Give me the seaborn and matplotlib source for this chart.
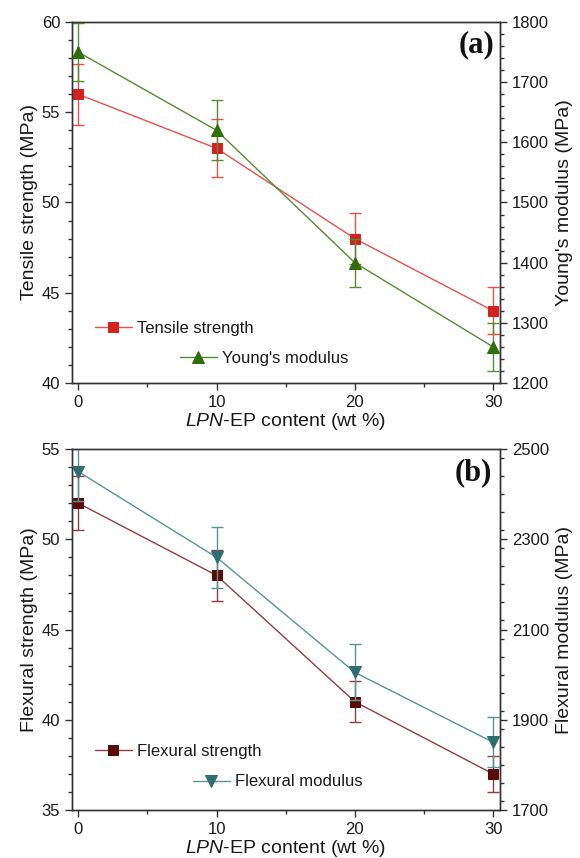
import numpy as np
import pandas as pd
import matplotlib
matplotlib.use("Agg")
import matplotlib.pyplot as plt
import seaborn as sns
from matplotlib.ticker import MultipleLocator

sns.set_theme(style="ticks")
plt.rcParams['font.family'] = ['Liberation Sans', 'DejaVu Sans']
plt.rcParams['mathtext.fontset'] = 'custom'
plt.rcParams['mathtext.it'] = 'Liberation Sans:italic'
plt.rcParams['mathtext.rm'] = 'Liberation Sans'

content = [0, 10, 20, 30]
tensile = [56, 53, 48, 44]
tensile_err = [1.7, 1.6, 1.4, 1.3]
young = [1750, 1620, 1400, 1260]
young_err = [48, 50, 40, 40]
flex_strength = [52, 48, 41, 37]
flex_strength_err = [1.5, 1.4, 1.15, 1.0]
flex_modulus = [2450, 2260, 2005, 1850]
flex_modulus_err = [65, 68, 62, 55]

x_ticks = [0, 10, 20, 30]
ticksA_left = [40, 45, 50, 55, 60]
ticksA_right = [1200, 1300, 1400, 1500, 1600, 1700, 1800]
ticksB_left = [35, 40, 45, 50, 55]
ticksB_right = [1700, 1900, 2100, 2300, 2500]
xlabel = r'$\mathit{LPN}$-EP content (wt %)'

fig = plt.figure(figsize=(5.8, 8.58), dpi=100)
L, R = 72/580, 500/580
axA = fig.add_axes([L, 1-383/858, R-L, 361/858])
axB = fig.add_axes([L, 1-810/858, R-L, 361/858])

FS = 14
TFS = 12
TXT = '#1a1a1a'

def draw(ax, y1, e1, y2, e2, c1m, c1l, c2m, c2l, mk2, ms2,
         lab1, lab2, ylab1, ylab2, ylim1, ylim2, t1, min1, t2, min2,
         leg1, leg2, panel, ppos):
    ax2 = ax.twinx()
    df1 = pd.DataFrame({'x': content, 'y': y1})
    df2 = pd.DataFrame({'x': content, 'y': y2})
    ax.errorbar(content, y1, yerr=e1, fmt='none', ecolor=c1l, elinewidth=1.0,
                capsize=4, capthick=1.0, zorder=2)
    sns.lineplot(data=df1, x='x', y='y', ax=ax, color=c1l, lw=1.0,
                 marker='s', markersize=6.5, markerfacecolor=c1m,
                 markeredgecolor=c1m, label=lab1, legend=False, zorder=3)
    ax2.errorbar(content, y2, yerr=e2, fmt='none', ecolor=c2l, elinewidth=1.0,
                 capsize=4, capthick=1.0, zorder=2)
    sns.lineplot(data=df2, x='x', y='y', ax=ax2, color=c2l, lw=1.0,
                 marker=mk2, markersize=ms2, markerfacecolor=c2m,
                 markeredgecolor=c2m, label=lab2, legend=False, zorder=3)
    ax.set_xlim(-0.45, 30.5)
    ax.set_xticks(x_ticks)
    ax.xaxis.set_minor_locator(MultipleLocator(5))
    ax.set_yticks(t1)
    ax.yaxis.set_minor_locator(MultipleLocator(min1))
    ax2.set_yticks(t2)
    ax2.yaxis.set_minor_locator(MultipleLocator(min2))
    ax.set_ylim(*ylim1)
    ax2.set_ylim(*ylim2)
    for a in (ax, ax2):
        a.tick_params(which='major', direction='out', length=5, width=1,
                      labelsize=TFS, colors='#333333', labelcolor=TXT)
        a.tick_params(which='minor', direction='out', length=3, width=1,
                      colors='#333333')
        for s in a.spines.values():
            s.set_visible(True)
            s.set_color('#333333')
            s.set_linewidth(1.0)
    ax.tick_params(axis='x', which='both', top=False)
    ax2.tick_params(axis='x', which='both', top=False)
    ax.set_xlabel(xlabel, fontsize=FS, labelpad=1, color=TXT)
    ax.set_ylabel(ylab1, fontsize=FS, labelpad=3, color=TXT)
    ax2.set_ylabel(ylab2, fontsize=FS, labelpad=5, color=TXT)
    h1 = ax.get_lines()[-1]
    h2 = ax2.get_lines()[-1]
    ax.legend([h1], [lab1], loc='center left', bbox_to_anchor=leg1,
              frameon=False, fontsize=TFS, handlelength=2.2,
              handletextpad=0.3, borderpad=0, borderaxespad=0,
              labelcolor=TXT)
    ax2.legend([h2], [lab2], loc='center left', bbox_to_anchor=leg2,
               frameon=False, fontsize=TFS, handlelength=2.2,
               handletextpad=0.3, borderpad=0, borderaxespad=0,
               labelcolor=TXT)
    ax2.text(ppos[0], ppos[1], panel, transform=ax.transAxes, ha='right',
             va='center', fontsize=22, fontweight='bold',
             family='Liberation Serif', color='#111111')
    return ax2

draw(axA, tensile, tensile_err, young, young_err,
     '#d42121', '#e8504c', '#2f6e0c', '#558c36', '^', 8.5,
     'Tensile strength', "Young's modulus",
     'Tensile strength (MPa)', "Young's modulus (MPa)",
     (40, 60), (1200, 1800), ticksA_left, 1, ticksA_right, 20,
     (0.054, 0.152), (0.252, 0.069), '(a)', (0.988, 0.936))

draw(axB, flex_strength, flex_strength_err, flex_modulus, flex_modulus_err,
     '#5a0a0a', '#8e4040', '#2e6e6e', '#5a9494', 'v', 8.5,
     'Flexural strength', 'Flexural modulus',
     'Flexural strength (MPa)', 'Flexural modulus (MPa)',
     (35, 55), (1700, 2500), ticksB_left, 1, ticksB_right, 40,
     (0.054, 0.163), (0.283, 0.078), '(b)', (0.981, 0.934))

fig.savefig('out.png', dpi=100)
